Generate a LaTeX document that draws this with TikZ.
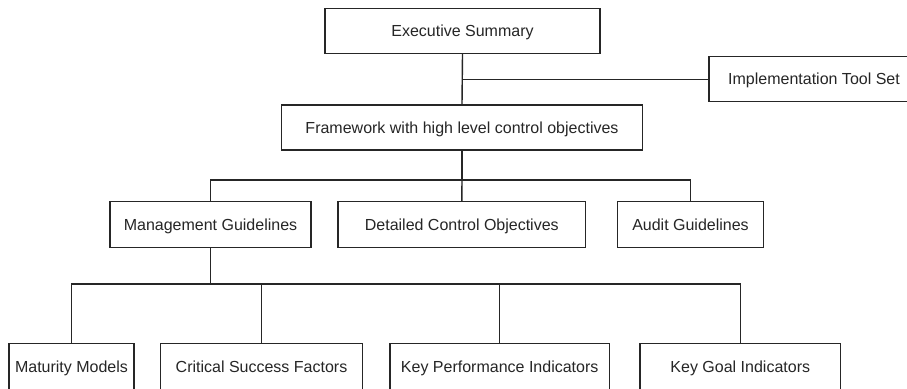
\documentclass[tikz,border=0pt]{standalone}
\usepackage{fontspec}
\setmainfont{Liberation Sans}
\begin{document}
\begin{tikzpicture}[x=1pt,y=-1pt,
  box/.style={draw=black!85, line width=1.4pt, fill=white, inner sep=0pt,
    minimum height=45pt, text height=11.5pt, text depth=0pt,
    font=\fontsize{16}{19}\selectfont, text=black!85},
  link/.style={draw=black!85, line width=1.4pt}]
  \clip (0,0) rectangle (907,388);
  \fill[white] (0,0) rectangle (907,388);

  % top level
  \node[box, minimum width=275pt]   (exec)  at (462.5,30.8)  {Executive Summary};
  \node[box, minimum width=210pt]   (impl)  at (814,79.2)    {Implementation Tool Set};
  \node[box, minimum width=360.6pt] (frame) at (462,127.5)   {Framework with high level control objectives};

  % guideline level
  \node[box, minimum width=201pt, minimum height=45.6pt]   (mg)    at (210.5,224.5) {Management Guidelines};
  \node[box, minimum width=247.7pt, minimum height=45.6pt] (dco)   at (461.8,224.5) {Detailed Control Objectives};
  \node[box, minimum width=145.6pt, minimum height=45.6pt] (audit) at (690.5,224.5) {Audit Guidelines};

  % indicator level (runs past the lower edge)
  \node[box, minimum width=125pt, minimum height=47pt]   (mm)  at (71.5,366.8)  {Maturity Models};
  \node[box, minimum width=201.6pt, minimum height=47pt] (csf) at (261.5,366.8) {Critical Success Factors};
  \node[box, minimum width=219.3pt, minimum height=47pt] (kpi) at (499.7,366.8) {Key Performance Indicators};
  \node[box, minimum width=200.7pt, minimum height=47pt] (kgi) at (740.3,366.8) {Key Goal Indicators};

  % connectors
  \coordinate (j1) at (exec.south |- impl.west);
  \draw[link] (exec.south) -- (frame.north);
  \draw[link] (j1) -- (impl.west);

  \coordinate (b1) at (462,180);
  \draw[link] (frame.south) -- (b1);
  \draw[link] (b1) -| (mg.north);
  \draw[link] (b1) -| (audit.north);
  \draw[link] (b1) -- (dco.north);

  \coordinate (b2) at (210.5,284);
  \draw[link] (mg.south) -- (b2);
  \draw[link] (b2) -| (mm.north);
  \draw[link] (b2) -| (kgi.north);
  \draw[link] (csf.north) -- (csf.north |- b2);
  \draw[link] (kpi.north) -- (kpi.north |- b2);
\end{tikzpicture}
\end{document}
